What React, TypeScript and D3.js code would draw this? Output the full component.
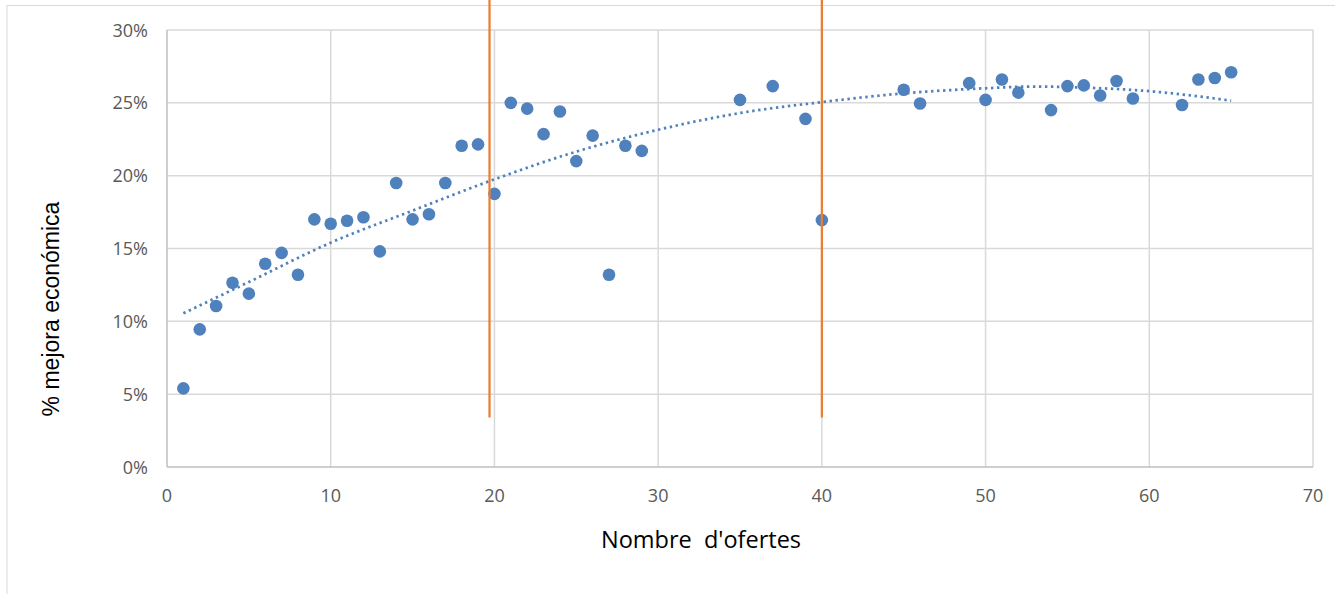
import React from "react";
import * as d3 from "d3";

const offersX = [1,2,3,4,5,6,7,8,9,10,11,12,13,14,15,16,17,18,19,20,21,22,23,24,25,26,27,28,29,35,37,39,40,45,46,49,50,51,52,54,55,56,57,58,59,62,63,64,65];
const improvementY = [5.4,9.45,11.05,12.65,11.9,13.95,14.7,13.2,17.0,16.7,16.9,17.15,14.8,19.5,17.0,17.35,19.5,22.05,22.15,18.75,25.0,24.6,22.85,24.4,21.0,22.75,13.2,22.05,21.7,25.2,26.15,23.9,16.95,25.9,24.95,26.35,25.2,26.6,25.7,24.5,26.15,26.2,25.5,26.5,25.3,24.85,26.6,26.7,27.1];

const trendX = [1,5,10,15,20,25,30,35,40,45,50,53,55,60,65];
const trendY = [10.55,12.7,15.4,17.6,19.75,21.65,23.15,24.3,25.05,25.65,26.0,26.12,26.08,25.8,25.15];

const markerLinesX = [19.7, 40.0];
const markerLineRange = [3.4, 32.1];

const xTicks = [0,10,20,30,40,50,60,70];
const yTicks = [0,5,10,15,20,25,30];

const W = 1335, H = 594;
const left = 167, right = 1313, top = 30, bottom = 467;

export default function App() {
  const x = d3.scaleLinear().domain([0, 70]).range([left, right]);
  const y = d3.scaleLinear().domain([0, 30]).range([bottom, top]);
  const trendPts = trendX.map((v, i) => [v, trendY[i]] as [number, number]);
  const line = d3.line<[number, number]>().x(d => x(d[0])).y(d => y(d[1])).curve(d3.curveMonotoneX);
  const tickFont = "'Open Sans', sans-serif";
  const blue = "#4F81BD";
  return (
    <svg width={W} height={H} style={{ position: "absolute", left: 0, top: 0, background: "#fff" }}>
      <rect x={7} y={5.5} width={W + 10} height={H + 10} fill="#fff" stroke="#d9d9d9" strokeWidth={1} />
      {xTicks.filter(t => t > 0).map(t => (
        <line key={"vx" + t} x1={x(t)} x2={x(t)} y1={top} y2={bottom} stroke="#d9d9d9" strokeWidth={1.5} />
      ))}
      {yTicks.filter(t => t > 0).map(t => (
        <line key={"hy" + t} x1={left} x2={right} y1={y(t)} y2={y(t)} stroke="#d9d9d9" strokeWidth={1.5} />
      ))}
      <line x1={left} x2={left} y1={top} y2={bottom} stroke="#bfbfbf" strokeWidth={1.5} />
      <line x1={left} x2={right} y1={bottom} y2={bottom} stroke="#bfbfbf" strokeWidth={1.5} />
      {yTicks.map(t => (
        <text key={"yl" + t} x={148} y={y(t) + 6.5} textAnchor="end" fontFamily={tickFont} fontSize={18} fill="#595959">{t}%</text>
      ))}
      {xTicks.map(t => (
        <text key={"xl" + t} x={x(t)} y={502} textAnchor="middle" fontFamily={tickFont} fontSize={18} fill="#595959">{t}</text>
      ))}
      {offersX.map((v, i) => (
        <circle key={"p" + i} cx={x(v)} cy={y(improvementY[i])} r={6.3} fill={blue} />
      ))}
      <path d={line(trendPts) || ""} fill="none" stroke={blue} strokeWidth={2.75} strokeDasharray="2.4 3.6" />
      {markerLinesX.map(v => (
        <line key={"m" + v} x1={x(v)} x2={x(v)} y1={y(markerLineRange[0])} y2={y(markerLineRange[1])} stroke="#ED7D31" strokeWidth={2.25} />
      ))}
      <text x={701} y={548} textAnchor="middle" fontFamily={tickFont} fontSize={23.5} fill="#000" style={{ whiteSpace: "pre" }}>{"Nombre  d'ofertes"}</text>
      <text transform={`translate(59,309) rotate(-90)`} textAnchor="middle" fontFamily="'Liberation Sans', Arial, sans-serif" fontSize={23} fill="#000">% mejora económica</text>
    </svg>
  );
}
